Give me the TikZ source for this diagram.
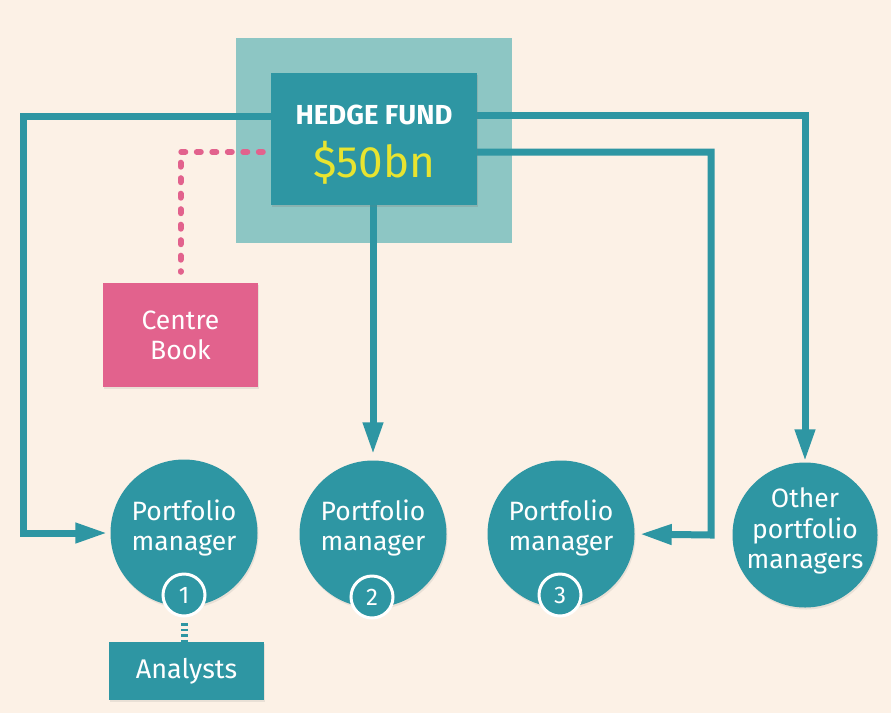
\documentclass[tikz,border=0pt]{standalone}
\usepackage{fontspec}
\setmainfont{Fira Sans}
\usetikzlibrary{arrows.meta,shadows}
\definecolor{bgcream}{RGB}{252,241,230}
\definecolor{tealc}{RGB}{46,150,163}
\definecolor{lightteal}{RGB}{141,198,196}
\definecolor{pinkc}{RGB}{226,98,141}
\definecolor{yellowc}{RGB}{232,228,48}
\tikzset{
  softshadow/.style={drop shadow={opacity=0.15,shadow xshift=1pt,shadow yshift=-2pt}},
  tealbox/.style={rectangle,fill=tealc,inner sep=0pt,softshadow},
  pmcircle/.style={circle,fill=tealc,inner sep=0pt,minimum size=147pt,softshadow},
  pmtext/.style={text=white,align=center,font=\fontsize{26.5}{30.5}\selectfont},
  numcircle/.style={circle,fill=tealc,draw=white,line width=3pt,inner sep=0pt,minimum size=42pt,text=white,font=\fontsize{24}{28}\selectfont},
  link/.style={draw=tealc,line width=7pt,line join=miter},
  linkarrow/.style={link,-{Triangle[length=32pt,width=19pt]}},
  pinkdash/.style={draw=pinkc,line width=6pt,line cap=round,dash pattern=on 4pt off 11.5pt},
  tealdash/.style={draw=tealc,line width=7pt,dash pattern=on 2.5pt off 3pt},
}
\begin{document}
\begin{tikzpicture}[x=1pt,y=-1pt]
\fill[bgcream] (0,0) rectangle (891,713);
\useasboundingbox (0,0) rectangle (891,713);
% light square behind the fund
\fill[lightteal] (236,38) rectangle (512,243);

% nodes (positions)
\coordinate (hfpos) at (374,139);
\node[tealbox,minimum width=206pt,minimum height=132pt] (hf) at (hfpos) {};
\node[rectangle,fill=pinkc,inner sep=0pt,minimum width=155pt,minimum height=104pt,softshadow,text=white,align=center,font=\fontsize{26.5}{30}\selectfont] (cb) at (180.5,335) {Centre\\Book};

\node[pmcircle] (c1) at (184,533) {};
\node[pmcircle] (c2) at (373,534) {};
\node[pmcircle] (c3) at (561,534) {};
\node[circle,fill=tealc,inner sep=0pt,minimum size=145pt,softshadow] (c4) at (805,535) {};

\coordinate (hfl1) at ([yshift=23pt]hf.west);
\coordinate (hfl2) at ([yshift=-13pt]hf.west);
\coordinate (hfr1) at ([yshift=23.5pt]hf.east);
\coordinate (hfr2) at ([yshift=-13pt]hf.east);
\coordinate (lx) at (23.5,533);
\coordinate (rx) at (711,535);

% connectors
\draw[linkarrow,shorten >=3pt] (hfl1) -| (lx) -- (c1.west);
\draw[linkarrow,shorten >=6pt] (hf.south -| c2.north) -- (c2.north);
\draw[linkarrow,shorten >=1pt] (hfr1) -| (c4.north);
\draw[linkarrow,shorten >=5pt] (hfr2) -| (rx) -- (c3.east);
\draw[pinkdash,shorten <=8pt,shorten >=11pt] (hfl2) -| (cb.north);

% fund box on top of line ends
\node[tealbox,minimum width=206pt,minimum height=132pt] (hf2) at (hfpos) {};
\node[anchor=base,text=white,font=\bfseries\fontsize{27.5}{30}\selectfont] (hft) at (374,124) {HEDGE FUND};
\node[anchor=base,text=yellowc,font=\fontsize{44}{50}\selectfont] (hfv) at (374,177) {\$50bn};

% circle texts
\node[pmtext] (t1) at (184,528) {Portfolio\\manager};
\node[pmtext] (t2) at (373,528) {Portfolio\\manager};
\node[pmtext] (t3) at (561,528) {Portfolio\\manager};
\node[pmtext] (t4) at (805,531) {Other\\portfolio\\managers};

% numbers
\node[numcircle] (n1) at (184,595) {1};
\node[numcircle] (n2) at (372,597) {2};
\node[numcircle] (n3) at (560,595) {3};

% analysts
\node[tealbox,minimum width=155pt,minimum height=58pt,text=white,font=\fontsize{27}{30}\selectfont] (an) at (186.5,671) {Analysts};
\draw[tealdash] (184,623) -- (an.north -| n1.south);
\end{tikzpicture}
\end{document}
